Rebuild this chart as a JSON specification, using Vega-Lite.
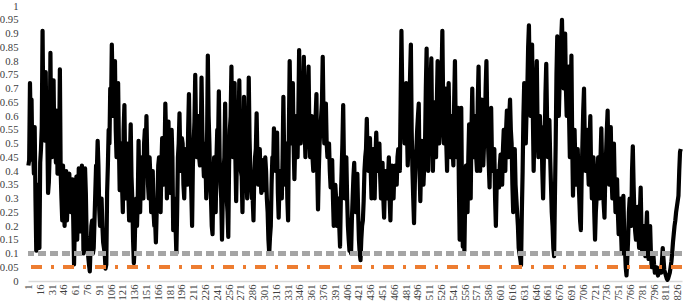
{
  "$schema": "https://vega.github.io/schema/vega-lite/v6.json",
  "autosize": {"type": "none"},
  "width": 654,
  "height": 275,
  "padding": {"left": 28, "top": 6, "right": 3, "bottom": 22},
  "background": "white",
  "config": {"view": {"stroke": null}, "font": "Liberation Serif", "axis": {"labelFont": "Liberation Serif", "labelFontSize": 10.7, "labelColor": "#404040"}},
  "resolve": {"axis": {"y": "independent"}},
  "data": {"values": [
{"i":1,"v":0.42},{"i":2,"v":0.44},{"i":3,"v":0.72},{"i":4,"v":0.56},{"i":5,"v":0.66},{"i":6,"v":0.44},{"i":7,"v":0.48},{"i":8,"v":0.39},{"i":9,"v":0.56},{"i":10,"v":0.3},
{"i":11,"v":0.11},{"i":12,"v":0.15},{"i":13,"v":0.35},{"i":14,"v":0.25},{"i":15,"v":0.12},{"i":16,"v":0.43},{"i":17,"v":0.48},{"i":18,"v":0.56},{"i":19,"v":0.91},{"i":20,"v":0.59},
{"i":21,"v":0.53},{"i":22,"v":0.51},{"i":23,"v":0.76},{"i":24,"v":0.52},{"i":25,"v":0.55},{"i":26,"v":0.32},{"i":27,"v":0.36},{"i":28,"v":0.46},{"i":29,"v":0.83},{"i":30,"v":0.51},
{"i":31,"v":0.45},{"i":32,"v":0.46},{"i":33,"v":0.73},{"i":34,"v":0.48},{"i":35,"v":0.5},{"i":36,"v":0.43},{"i":37,"v":0.62},{"i":38,"v":0.39},{"i":39,"v":0.42},{"i":40,"v":0.46},
{"i":41,"v":0.77},{"i":42,"v":0.4},{"i":43,"v":0.3},{"i":44,"v":0.22},{"i":45,"v":0.42},{"i":46,"v":0.3},{"i":47,"v":0.2},{"i":48,"v":0.33},{"i":49,"v":0.4},{"i":50,"v":0.22},
{"i":51,"v":0.3},{"i":52,"v":0.38},{"i":53,"v":0.39},{"i":54,"v":0.3},{"i":55,"v":0.25},{"i":56,"v":0.33},{"i":57,"v":0.37},{"i":58,"v":0.22},{"i":59,"v":0.06},{"i":60,"v":0.2},
{"i":61,"v":0.33},{"i":62,"v":0.38},{"i":63,"v":0.15},{"i":64,"v":0.25},{"i":65,"v":0.41},{"i":66,"v":0.35},{"i":67,"v":0.18},{"i":68,"v":0.26},{"i":69,"v":0.42},{"i":70,"v":0.33},
{"i":71,"v":0.1},{"i":72,"v":0.25},{"i":73,"v":0.41},{"i":74,"v":0.32},{"i":75,"v":0.16},{"i":76,"v":0.12},{"i":77,"v":0.09},{"i":78,"v":0.06},{"i":79,"v":0.035},{"i":80,"v":0.12},
{"i":81,"v":0.2},{"i":82,"v":0.22},{"i":83,"v":0.1},{"i":84,"v":0.12},{"i":85,"v":0.22},{"i":86,"v":0.32},{"i":87,"v":0.42},{"i":88,"v":0.4},{"i":89,"v":0.51},{"i":90,"v":0.42},
{"i":91,"v":0.26},{"i":92,"v":0.2},{"i":93,"v":0.3},{"i":94,"v":0.3},{"i":95,"v":0.2},{"i":96,"v":0.14},{"i":97,"v":0.12},{"i":98,"v":0.1},{"i":99,"v":0.045},{"i":100,"v":0.06},
{"i":101,"v":0.32},{"i":102,"v":0.42},{"i":103,"v":0.55},{"i":104,"v":0.5},{"i":105,"v":0.7},{"i":106,"v":0.62},{"i":107,"v":0.86},{"i":108,"v":0.7},{"i":109,"v":0.6},{"i":110,"v":0.7},
{"i":111,"v":0.8},{"i":112,"v":0.55},{"i":113,"v":0.45},{"i":114,"v":0.66},{"i":115,"v":0.72},{"i":116,"v":0.5},{"i":117,"v":0.33},{"i":118,"v":0.45},{"i":119,"v":0.5},{"i":120,"v":0.35},
{"i":121,"v":0.25},{"i":122,"v":0.55},{"i":123,"v":0.64},{"i":124,"v":0.4},{"i":125,"v":0.3},{"i":126,"v":0.45},{"i":127,"v":0.5},{"i":128,"v":0.32},{"i":129,"v":0.22},{"i":130,"v":0.45},
{"i":131,"v":0.57},{"i":132,"v":0.38},{"i":133,"v":0.3},{"i":134,"v":0.15},{"i":135,"v":0.065},{"i":136,"v":0.12},{"i":137,"v":0.25},{"i":138,"v":0.3},{"i":139,"v":0.2},{"i":140,"v":0.3},
{"i":141,"v":0.51},{"i":142,"v":0.35},{"i":143,"v":0.25},{"i":144,"v":0.4},{"i":145,"v":0.45},{"i":146,"v":0.35},{"i":147,"v":0.3},{"i":148,"v":0.5},{"i":149,"v":0.55},{"i":150,"v":0.45},
{"i":151,"v":0.6},{"i":152,"v":0.45},{"i":153,"v":0.35},{"i":154,"v":0.3},{"i":155,"v":0.45},{"i":156,"v":0.38},{"i":157,"v":0.25},{"i":158,"v":0.32},{"i":159,"v":0.4},{"i":160,"v":0.25},
{"i":161,"v":0.2},{"i":162,"v":0.22},{"i":163,"v":0.14},{"i":164,"v":0.25},{"i":165,"v":0.3},{"i":166,"v":0.42},{"i":167,"v":0.45},{"i":168,"v":0.3},{"i":169,"v":0.25},{"i":170,"v":0.42},
{"i":171,"v":0.52},{"i":172,"v":0.4},{"i":173,"v":0.35},{"i":174,"v":0.45},{"i":175,"v":0.645},{"i":176,"v":0.52},{"i":177,"v":0.3},{"i":178,"v":0.4},{"i":179,"v":0.58},{"i":180,"v":0.4},
{"i":181,"v":0.32},{"i":182,"v":0.5},{"i":183,"v":0.55},{"i":184,"v":0.45},{"i":185,"v":0.185},{"i":186,"v":0.25},{"i":187,"v":0.3},{"i":188,"v":0.2},{"i":189,"v":0.1},{"i":190,"v":0.25},
{"i":191,"v":0.45},{"i":192,"v":0.5},{"i":193,"v":0.61},{"i":194,"v":0.45},{"i":195,"v":0.4},{"i":196,"v":0.52},{"i":197,"v":0.5},{"i":198,"v":0.35},{"i":199,"v":0.3},{"i":200,"v":0.42},
{"i":201,"v":0.48},{"i":202,"v":0.38},{"i":203,"v":0.35},{"i":204,"v":0.55},{"i":205,"v":0.68},{"i":206,"v":0.5},{"i":207,"v":0.4},{"i":208,"v":0.32},{"i":209,"v":0.2},{"i":210,"v":0.42},
{"i":211,"v":0.5},{"i":212,"v":0.58},{"i":213,"v":0.75},{"i":214,"v":0.55},{"i":215,"v":0.45},{"i":216,"v":0.58},{"i":217,"v":0.6},{"i":218,"v":0.45},{"i":219,"v":0.42},{"i":220,"v":0.5},
{"i":221,"v":0.74},{"i":222,"v":0.55},{"i":223,"v":0.45},{"i":224,"v":0.38},{"i":225,"v":0.5},{"i":226,"v":0.45},{"i":227,"v":0.3},{"i":228,"v":0.5},{"i":229,"v":0.82},{"i":230,"v":0.6},
{"i":231,"v":0.5},{"i":232,"v":0.35},{"i":233,"v":0.3},{"i":234,"v":0.2},{"i":235,"v":0.17},{"i":236,"v":0.35},{"i":237,"v":0.45},{"i":238,"v":0.3},{"i":239,"v":0.25},{"i":240,"v":0.45},
{"i":241,"v":0.55},{"i":242,"v":0.5},{"i":243,"v":0.69},{"i":244,"v":0.45},{"i":245,"v":0.35},{"i":246,"v":0.3},{"i":247,"v":0.15},{"i":248,"v":0.3},{"i":249,"v":0.4},{"i":250,"v":0.45},
{"i":251,"v":0.645},{"i":252,"v":0.42},{"i":253,"v":0.3},{"i":254,"v":0.25},{"i":255,"v":0.16},{"i":256,"v":0.42},{"i":257,"v":0.55},{"i":258,"v":0.6},{"i":259,"v":0.78},{"i":260,"v":0.5},
{"i":261,"v":0.45},{"i":262,"v":0.62},{"i":263,"v":0.72},{"i":264,"v":0.45},{"i":265,"v":0.29},{"i":266,"v":0.45},{"i":267,"v":0.5},{"i":268,"v":0.55},{"i":269,"v":0.73},{"i":270,"v":0.5},
{"i":271,"v":0.4},{"i":272,"v":0.38},{"i":273,"v":0.25},{"i":274,"v":0.42},{"i":275,"v":0.67},{"i":276,"v":0.55},{"i":277,"v":0.61},{"i":278,"v":0.4},{"i":279,"v":0.3},{"i":280,"v":0.45},
{"i":281,"v":0.74},{"i":282,"v":0.52},{"i":283,"v":0.4},{"i":284,"v":0.35},{"i":285,"v":0.3},{"i":286,"v":0.3},{"i":287,"v":0.22},{"i":288,"v":0.38},{"i":289,"v":0.45},{"i":290,"v":0.48},
{"i":291,"v":0.61},{"i":292,"v":0.45},{"i":293,"v":0.35},{"i":294,"v":0.38},{"i":295,"v":0.48},{"i":296,"v":0.38},{"i":297,"v":0.32},{"i":298,"v":0.4},{"i":299,"v":0.44},{"i":300,"v":0.36},
{"i":301,"v":0.33},{"i":302,"v":0.45},{"i":303,"v":0.4},{"i":304,"v":0.3},{"i":305,"v":0.25},{"i":306,"v":0.15},{"i":307,"v":0.1},{"i":308,"v":0.16},{"i":309,"v":0.2},{"i":310,"v":0.35},
{"i":311,"v":0.45},{"i":312,"v":0.42},{"i":313,"v":0.555},{"i":314,"v":0.48},{"i":315,"v":0.4},{"i":316,"v":0.45},{"i":317,"v":0.54},{"i":318,"v":0.32},{"i":319,"v":0.23},{"i":320,"v":0.35},
{"i":321,"v":0.4},{"i":322,"v":0.3},{"i":323,"v":0.3},{"i":324,"v":0.45},{"i":325,"v":0.67},{"i":326,"v":0.45},{"i":327,"v":0.35},{"i":328,"v":0.45},{"i":329,"v":0.5},{"i":330,"v":0.3},
{"i":331,"v":0.22},{"i":332,"v":0.55},{"i":333,"v":0.8},{"i":334,"v":0.6},{"i":335,"v":0.5},{"i":336,"v":0.62},{"i":337,"v":0.72},{"i":338,"v":0.5},{"i":339,"v":0.37},{"i":340,"v":0.5},
{"i":341,"v":0.6},{"i":342,"v":0.5},{"i":343,"v":0.45},{"i":344,"v":0.6},{"i":345,"v":0.84},{"i":346,"v":0.6},{"i":347,"v":0.5},{"i":348,"v":0.62},{"i":349,"v":0.7},{"i":350,"v":0.65},
{"i":351,"v":0.815},{"i":352,"v":0.55},{"i":353,"v":0.45},{"i":354,"v":0.55},{"i":355,"v":0.65},{"i":356,"v":0.7},{"i":357,"v":0.78},{"i":358,"v":0.55},{"i":359,"v":0.45},{"i":360,"v":0.5},
{"i":361,"v":0.6},{"i":362,"v":0.45},{"i":363,"v":0.4},{"i":364,"v":0.48},{"i":365,"v":0.55},{"i":366,"v":0.6},{"i":367,"v":0.68},{"i":368,"v":0.4},{"i":369,"v":0.26},{"i":370,"v":0.4},
{"i":371,"v":0.5},{"i":372,"v":0.55},{"i":373,"v":0.6},{"i":374,"v":0.65},{"i":375,"v":0.815},{"i":376,"v":0.6},{"i":377,"v":0.5},{"i":378,"v":0.55},{"i":379,"v":0.645},{"i":380,"v":0.5},
{"i":381,"v":0.45},{"i":382,"v":0.45},{"i":383,"v":0.5},{"i":384,"v":0.4},{"i":385,"v":0.34},{"i":386,"v":0.4},{"i":387,"v":0.44},{"i":388,"v":0.3},{"i":389,"v":0.2},{"i":390,"v":0.28},
{"i":391,"v":0.35},{"i":392,"v":0.3},{"i":393,"v":0.2},{"i":394,"v":0.25},{"i":395,"v":0.3},{"i":396,"v":0.2},{"i":397,"v":0.125},{"i":398,"v":0.3},{"i":399,"v":0.4},{"i":400,"v":0.5},
{"i":401,"v":0.64},{"i":402,"v":0.42},{"i":403,"v":0.3},{"i":404,"v":0.35},{"i":405,"v":0.45},{"i":406,"v":0.3},{"i":407,"v":0.2},{"i":408,"v":0.15},{"i":409,"v":0.11},{"i":410,"v":0.15},
{"i":411,"v":0.1},{"i":412,"v":0.22},{"i":413,"v":0.3},{"i":414,"v":0.38},{"i":415,"v":0.43},{"i":416,"v":0.32},{"i":417,"v":0.25},{"i":418,"v":0.3},{"i":419,"v":0.39},{"i":420,"v":0.25},
{"i":421,"v":0.15},{"i":422,"v":0.1},{"i":423,"v":0.076},{"i":424,"v":0.15},{"i":425,"v":0.2},{"i":426,"v":0.22},{"i":427,"v":0.29},{"i":428,"v":0.4},{"i":429,"v":0.45},{"i":430,"v":0.48},
{"i":431,"v":0.59},{"i":432,"v":0.45},{"i":433,"v":0.4},{"i":434,"v":0.48},{"i":435,"v":0.52},{"i":436,"v":0.4},{"i":437,"v":0.3},{"i":438,"v":0.42},{"i":439,"v":0.48},{"i":440,"v":0.38},
{"i":441,"v":0.3},{"i":442,"v":0.45},{"i":443,"v":0.54},{"i":444,"v":0.45},{"i":445,"v":0.4},{"i":446,"v":0.42},{"i":447,"v":0.5},{"i":448,"v":0.38},{"i":449,"v":0.3},{"i":450,"v":0.4},
{"i":451,"v":0.43},{"i":452,"v":0.3},{"i":453,"v":0.23},{"i":454,"v":0.35},{"i":455,"v":0.4},{"i":456,"v":0.35},{"i":457,"v":0.3},{"i":458,"v":0.38},{"i":459,"v":0.45},{"i":460,"v":0.3},
{"i":461,"v":0.22},{"i":462,"v":0.35},{"i":463,"v":0.42},{"i":464,"v":0.35},{"i":465,"v":0.3},{"i":466,"v":0.4},{"i":467,"v":0.42},{"i":468,"v":0.38},{"i":469,"v":0.35},{"i":470,"v":0.45},
{"i":471,"v":0.48},{"i":472,"v":0.43},{"i":473,"v":0.4},{"i":474,"v":0.65},{"i":475,"v":0.91},{"i":476,"v":0.7},{"i":477,"v":0.6},{"i":478,"v":0.58},{"i":479,"v":0.5},{"i":480,"v":0.62},
{"i":481,"v":0.72},{"i":482,"v":0.55},{"i":483,"v":0.42},{"i":484,"v":0.5},{"i":485,"v":0.6},{"i":486,"v":0.75},{"i":487,"v":0.86},{"i":488,"v":0.55},{"i":489,"v":0.4},{"i":490,"v":0.3},
{"i":491,"v":0.21},{"i":492,"v":0.35},{"i":493,"v":0.45},{"i":494,"v":0.48},{"i":495,"v":0.55},{"i":496,"v":0.6},{"i":497,"v":0.645},{"i":498,"v":0.4},{"i":499,"v":0.29},{"i":500,"v":0.42},
{"i":501,"v":0.51},{"i":502,"v":0.4},{"i":503,"v":0.35},{"i":504,"v":0.42},{"i":505,"v":0.5},{"i":506,"v":0.7},{"i":507,"v":0.845},{"i":508,"v":0.55},{"i":509,"v":0.4},{"i":510,"v":0.6},
{"i":511,"v":0.7},{"i":512,"v":0.72},{"i":513,"v":0.81},{"i":514,"v":0.55},{"i":515,"v":0.4},{"i":516,"v":0.55},{"i":517,"v":0.65},{"i":518,"v":0.5},{"i":519,"v":0.45},{"i":520,"v":0.65},
{"i":521,"v":0.8},{"i":522,"v":0.6},{"i":523,"v":0.5},{"i":524,"v":0.55},{"i":525,"v":0.6},{"i":526,"v":0.75},{"i":527,"v":0.91},{"i":528,"v":0.65},{"i":529,"v":0.5},{"i":530,"v":0.6},
{"i":531,"v":0.7},{"i":532,"v":0.5},{"i":533,"v":0.4},{"i":534,"v":0.6},{"i":535,"v":0.72},{"i":536,"v":0.55},{"i":537,"v":0.45},{"i":538,"v":0.55},{"i":539,"v":0.6},{"i":540,"v":0.48},
{"i":541,"v":0.42},{"i":542,"v":0.65},{"i":543,"v":0.8},{"i":544,"v":0.55},{"i":545,"v":0.45},{"i":546,"v":0.55},{"i":547,"v":0.63},{"i":548,"v":0.35},{"i":549,"v":0.15},{"i":550,"v":0.45},
{"i":551,"v":0.63},{"i":552,"v":0.3},{"i":553,"v":0.125},{"i":554,"v":0.2},{"i":555,"v":0.11},{"i":556,"v":0.3},{"i":557,"v":0.42},{"i":558,"v":0.3},{"i":559,"v":0.25},{"i":560,"v":0.45},
{"i":561,"v":0.57},{"i":562,"v":0.4},{"i":563,"v":0.3},{"i":564,"v":0.55},{"i":565,"v":0.7},{"i":566,"v":0.52},{"i":567,"v":0.45},{"i":568,"v":0.55},{"i":569,"v":0.6},{"i":570,"v":0.45},
{"i":571,"v":0.4},{"i":572,"v":0.65},{"i":573,"v":0.78},{"i":574,"v":0.55},{"i":575,"v":0.4},{"i":576,"v":0.58},{"i":577,"v":0.66},{"i":578,"v":0.48},{"i":579,"v":0.42},{"i":580,"v":0.5},
{"i":581,"v":0.55},{"i":582,"v":0.7},{"i":583,"v":0.8},{"i":584,"v":0.6},{"i":585,"v":0.5},{"i":586,"v":0.42},{"i":587,"v":0.34},{"i":588,"v":0.52},{"i":589,"v":0.63},{"i":590,"v":0.45},
{"i":591,"v":0.4},{"i":592,"v":0.42},{"i":593,"v":0.48},{"i":594,"v":0.3},{"i":595,"v":0.2},{"i":596,"v":0.35},{"i":597,"v":0.4},{"i":598,"v":0.38},{"i":599,"v":0.34},{"i":600,"v":0.42},
{"i":601,"v":0.46},{"i":602,"v":0.38},{"i":603,"v":0.35},{"i":604,"v":0.48},{"i":605,"v":0.55},{"i":606,"v":0.45},{"i":607,"v":0.4},{"i":608,"v":0.55},{"i":609,"v":0.62},{"i":610,"v":0.5},
{"i":611,"v":0.45},{"i":612,"v":0.6},{"i":613,"v":0.66},{"i":614,"v":0.55},{"i":615,"v":0.5},{"i":616,"v":0.35},{"i":617,"v":0.25},{"i":618,"v":0.4},{"i":619,"v":0.48},{"i":620,"v":0.35},
{"i":621,"v":0.3},{"i":622,"v":0.25},{"i":623,"v":0.2},{"i":624,"v":0.12},{"i":625,"v":0.1},{"i":626,"v":0.08},{"i":627,"v":0.058},{"i":628,"v":0.25},{"i":629,"v":0.4},{"i":630,"v":0.6},
{"i":631,"v":0.72},{"i":632,"v":0.58},{"i":633,"v":0.5},{"i":634,"v":0.62},{"i":635,"v":0.7},{"i":636,"v":0.85},{"i":637,"v":0.93},{"i":638,"v":0.72},{"i":639,"v":0.6},{"i":640,"v":0.75},
{"i":641,"v":0.86},{"i":642,"v":0.6},{"i":643,"v":0.4},{"i":644,"v":0.55},{"i":645,"v":0.6},{"i":646,"v":0.72},{"i":647,"v":0.8},{"i":648,"v":0.55},{"i":649,"v":0.45},{"i":650,"v":0.55},
{"i":651,"v":0.6},{"i":652,"v":0.52},{"i":653,"v":0.56},{"i":654,"v":0.4},{"i":655,"v":0.3},{"i":656,"v":0.45},{"i":657,"v":0.5},{"i":658,"v":0.68},{"i":659,"v":0.79},{"i":660,"v":0.6},
{"i":661,"v":0.45},{"i":662,"v":0.5},{"i":663,"v":0.585},{"i":664,"v":0.45},{"i":665,"v":0.35},{"i":666,"v":0.25},{"i":667,"v":0.2},{"i":668,"v":0.12},{"i":669,"v":0.09},{"i":670,"v":0.3},
{"i":671,"v":0.5},{"i":672,"v":0.75},{"i":673,"v":0.89},{"i":674,"v":0.72},{"i":675,"v":0.6},{"i":676,"v":0.72},{"i":677,"v":0.8},{"i":678,"v":0.88},{"i":679,"v":0.95},{"i":680,"v":0.8},
{"i":681,"v":0.7},{"i":682,"v":0.82},{"i":683,"v":0.9},{"i":684,"v":0.7},{"i":685,"v":0.6},{"i":686,"v":0.7},{"i":687,"v":0.78},{"i":688,"v":0.6},{"i":689,"v":0.45},{"i":690,"v":0.65},
{"i":691,"v":0.82},{"i":692,"v":0.5},{"i":693,"v":0.31},{"i":694,"v":0.45},{"i":695,"v":0.55},{"i":696,"v":0.42},{"i":697,"v":0.35},{"i":698,"v":0.42},{"i":699,"v":0.48},{"i":700,"v":0.38},
{"i":701,"v":0.3},{"i":702,"v":0.22},{"i":703,"v":0.185},{"i":704,"v":0.38},{"i":705,"v":0.5},{"i":706,"v":0.62},{"i":707,"v":0.7},{"i":708,"v":0.5},{"i":709,"v":0.4},{"i":710,"v":0.48},
{"i":711,"v":0.55},{"i":712,"v":0.42},{"i":713,"v":0.35},{"i":714,"v":0.5},{"i":715,"v":0.6},{"i":716,"v":0.4},{"i":717,"v":0.3},{"i":718,"v":0.38},{"i":719,"v":0.45},{"i":720,"v":0.25},
{"i":721,"v":0.15},{"i":722,"v":0.25},{"i":723,"v":0.3},{"i":724,"v":0.4},{"i":725,"v":0.45},{"i":726,"v":0.35},{"i":727,"v":0.3},{"i":728,"v":0.45},{"i":729,"v":0.555},{"i":730,"v":0.42},
{"i":731,"v":0.35},{"i":732,"v":0.28},{"i":733,"v":0.23},{"i":734,"v":0.38},{"i":735,"v":0.46},{"i":736,"v":0.55},{"i":737,"v":0.62},{"i":738,"v":0.45},{"i":739,"v":0.35},{"i":740,"v":0.48},
{"i":741,"v":0.56},{"i":742,"v":0.38},{"i":743,"v":0.3},{"i":744,"v":0.42},{"i":745,"v":0.5},{"i":746,"v":0.35},{"i":747,"v":0.25},{"i":748,"v":0.3},{"i":749,"v":0.37},{"i":750,"v":0.25},
{"i":751,"v":0.17},{"i":752,"v":0.25},{"i":753,"v":0.3},{"i":754,"v":0.18},{"i":755,"v":0.1},{"i":756,"v":0.22},{"i":757,"v":0.31},{"i":758,"v":0.18},{"i":759,"v":0.12},{"i":760,"v":0.05},
{"i":761,"v":0.02},{"i":762,"v":0.08},{"i":763,"v":0.15},{"i":764,"v":0.25},{"i":765,"v":0.3},{"i":766,"v":0.22},{"i":767,"v":0.2},{"i":768,"v":0.4},{"i":769,"v":0.49},{"i":770,"v":0.35},
{"i":771,"v":0.25},{"i":772,"v":0.18},{"i":773,"v":0.15},{"i":774,"v":0.22},{"i":775,"v":0.27},{"i":776,"v":0.18},{"i":777,"v":0.12},{"i":778,"v":0.25},{"i":779,"v":0.34},{"i":780,"v":0.18},
{"i":781,"v":0.1},{"i":782,"v":0.15},{"i":783,"v":0.2},{"i":784,"v":0.12},{"i":785,"v":0.09},{"i":786,"v":0.18},{"i":787,"v":0.25},{"i":788,"v":0.12},{"i":789,"v":0.08},{"i":790,"v":0.14},
{"i":791,"v":0.2},{"i":792,"v":0.1},{"i":793,"v":0.05},{"i":794,"v":0.08},{"i":795,"v":0.1},{"i":796,"v":0.06},{"i":797,"v":0.03},{"i":798,"v":0.04},{"i":799,"v":0.05},{"i":800,"v":0.035},
{"i":801,"v":0.02},{"i":802,"v":0.03},{"i":803,"v":0.04},{"i":804,"v":0.05},{"i":805,"v":0.03},{"i":806,"v":0.07},{"i":807,"v":0.12},{"i":808,"v":0.08},{"i":809,"v":0.04},{"i":810,"v":0.03},
{"i":811,"v":0.02},{"i":812,"v":0.01},{"i":813,"v":0.004},{"i":814,"v":0.01},{"i":815,"v":0.02},{"i":816,"v":0.03},{"i":817,"v":0.05},{"i":818,"v":0.07},{"i":819,"v":0.1},{"i":820,"v":0.14},
{"i":821,"v":0.17},{"i":822,"v":0.2},{"i":823,"v":0.22},{"i":824,"v":0.25},{"i":825,"v":0.27},{"i":826,"v":0.29},{"i":827,"v":0.31},{"i":828,"v":0.4},{"i":829,"v":0.47},{"i":830,"v":0.48}
  ]},
  "layer": [
    {
      "mark": {"type": "line", "color": "#000000", "strokeWidth": 4.2, "strokeJoin": "round"},
      "encoding": {
        "x": {"field": "i", "type": "quantitative",
          "scale": {"domain": [0.5, 831.5], "nice": false, "zero": false},
          "axis": {"title": null, "values": [1,16,31,46,61,76,91,106,121,136,151,166,181,196,211,226,241,256,271,286,301,316,331,346,361,376,391,406,421,436,451,466,481,496,511,526,541,556,571,586,601,616,631,646,661,676,691,706,721,736,751,766,781,796,811,826],
            "labelAngle": -90, "labelPadding": 3,
            "ticks": false, "grid": false, "domainColor": "#d9d9d9", "domainWidth": 1.5, "labelOverlap": false, "labelFlush": false}},
        "y": {"field": "v", "type": "quantitative",
          "scale": {"domain": [0, 1], "nice": false},
          "axis": {"title": null, "values": [0,0.05,0.1,0.15,0.2,0.25,0.3,0.35,0.4,0.45,0.5,0.55,0.6,0.65,0.7,0.75,0.8,0.85,0.9,0.95,1],
            "format": "~g", "labelPadding": 10,
            "ticks": false, "grid": false, "domain": false, "labelOverlap": false, "labelFlush": false}}
      }
    },
    {
      "mark": {"type": "rule", "color": "#a5a5a5", "strokeWidth": 3.5, "strokeDash": [8, 4]},
      "encoding": {"y": {"datum": 0.1, "axis": null}}
    },
    {
      "mark": {"type": "rule", "color": "#ed7d31", "strokeWidth": 3.5, "strokeDash": [11, 9, 3, 9]},
      "encoding": {"y": {"datum": 0.05, "axis": null}}
    }
  ]
}
